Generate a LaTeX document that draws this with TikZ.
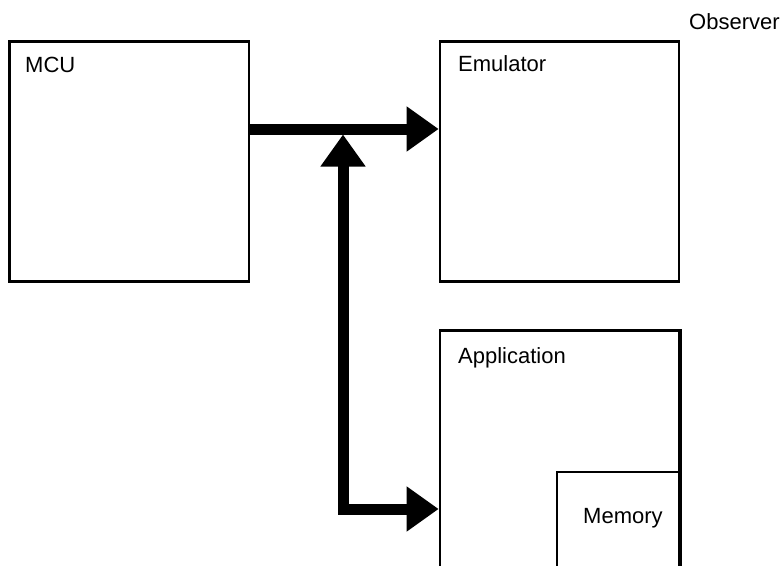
\documentclass[tikz,border=0pt]{standalone}
\usepackage{fontspec}
\setmainfont{Liberation Sans}
\usetikzlibrary{arrows.meta}
\begin{document}
\begin{tikzpicture}[x=1pt,y=-1pt,
  box/.style={draw=black,line width=2.7pt,rectangle,inner sep=0pt},
  thinbox/.style={draw=black,line width=1.3pt,rectangle,inner sep=0pt},
  lbl/.style={anchor=base west,inner sep=0pt,font=\fontsize{22}{26}\selectfont},
  bigarrow/.style={line width=11pt,line join=miter,-{Triangle[length=32pt,width=43pt]}}]
\clip (0,0) rectangle (784,565);
\useasboundingbox (0,0) rectangle (784,565);
\node[box,minimum width=239.5pt,minimum height=240pt] (mcu) at (129.25,161.5) {};
\node[box,minimum width=239pt,minimum height=240pt] (emu) at (559.5,161.5) {};
\node[box,minimum width=239pt,minimum height=300pt] (app) at (559.5,480.5) {};
\node[thinbox,minimum width=122pt,minimum height=150pt] (mem) at (618,547) {};
\draw[box] (app.north east) -- (app.south east);
\node[lbl] (tmcu) at (25,72) {MCU};
\node[lbl] (temu) at (458,71) {Emulator};
\node[lbl] (tapp) at (458,363) {Application};
\node[lbl] (tmem) at (583,523) {Memory};
\node[lbl] (tobs) at (689,29) {Observer};
\coordinate (j) at (343,129);
\coordinate (lo) at (343,509);
\draw[bigarrow] (mcu.east |- j) -- (emu.west |- j);
\draw[line width=11pt,line join=miter,{Triangle[length=32pt,width=43pt]}-{Triangle[length=32pt,width=43pt]}] ([yshift=-5.5pt]j) -- (lo) -- (app.west |- lo);
\end{tikzpicture}
\end{document}
